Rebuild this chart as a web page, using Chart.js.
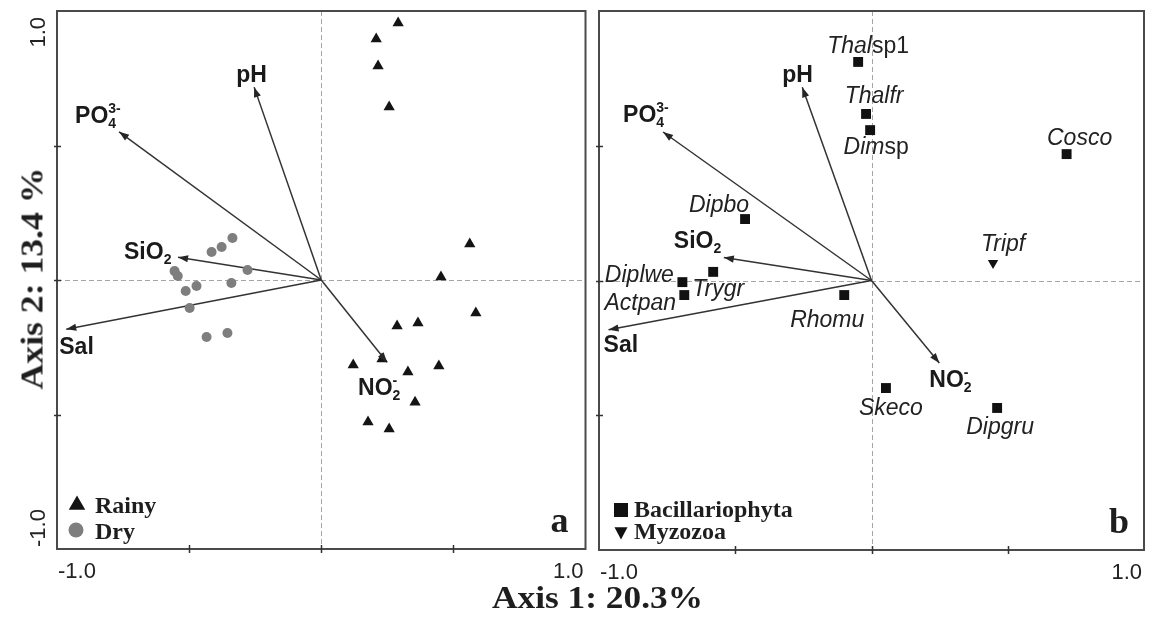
<!DOCTYPE html>
<html><head><meta charset="utf-8">
<script src="https://cdn.jsdelivr.net/npm/chart.js@4.4.1/dist/chart.umd.min.js"></script>
<style>
html,body{margin:0;padding:0;background:#fff;}
#wrap{position:relative;width:1151px;height:618px;overflow:hidden;background:#fff;}
canvas{position:absolute;top:0;}
#cA{left:0;} #cB{left:592px;}
.ttl{position:absolute;font-family:"Liberation Serif","Times New Roman",serif;font-weight:bold;font-size:31px;line-height:31px;color:#1e1e1e;white-space:nowrap;text-align:center;}
#t1{left:22px;width:1151px;top:582px;height:31px;transform:scaleX(1.14);}
#t2{left:-168.5px;top:262.5px;width:400px;height:31px;transform:rotate(-90deg) scaleX(1.15);}
</style></head><body>
<div id="wrap">
<canvas id="cA" width="592" height="618"></canvas>
<canvas id="cB" width="559" height="618"></canvas>
<div class="ttl" id="t1">Axis 1: 20.3%</div>
<div class="ttl" id="t2">Axis 2: 13.4 %</div>
</div>
<script>
// ---------- DATA ----------
const envNames = ['pH', 'PO4', 'SiO2', 'Sal', 'NO2'];
const envX = [-0.254, -0.765, -0.542, -0.965, 0.249];
const envY = [0.717, 0.551, 0.085, -0.183, -0.306];

const rainyX = [0.291, 0.208, 0.215, 0.257, 0.562, 0.453, 0.585, 0.287, 0.366, 0.230, 0.121, 0.328, 0.445, 0.355, 0.177, 0.257];
const rainyY = [0.955, 0.896, 0.796, 0.643, 0.134, 0.011, -0.123, -0.171, -0.160, -0.294, -0.316, -0.342, -0.320, -0.454, -0.528, -0.554];
const dryX = [-0.336, -0.377, -0.415, -0.279, -0.555, -0.543, -0.472, -0.513, -0.340, -0.498, -0.434, -0.355];
const dryY = [0.156, 0.123, 0.104, 0.037, 0.033, 0.015, -0.022, -0.041, -0.011, -0.104, -0.212, -0.197];

const bacNames = ['Thalsp1', 'Thalfr', 'Dimsp', 'Cosco', 'Dipbo', 'Trygr', 'Diplwe', 'Actpan', 'Rhomu', 'Skeco', 'Dipgru'];
const bacX = [-0.049, -0.020, -0.005, 0.716, -0.464, -0.581, -0.694, -0.687, -0.100, 0.053, 0.461];
const bacY = [0.811, 0.618, 0.558, 0.469, 0.228, 0.032, -0.006, -0.054, -0.054, -0.399, -0.473];
const myzNames = ['Tripf'];
const myzX = [0.446];
const myzY = [0.065];

const axisMin = -1, axisMax = 1;
const xTickLabels = ['-1.0', '1.0'];
const yTickLabels = ['-1.0', '1.0'];
const tickMarks = [-0.5, 0, 0.5];

// ---------- LAYOUT (label offsets in px, relative to marks) ----------
const envOffA = [[-18, -5], [-44, -9], [-54, 2], [-7, 25], [-29, 33]];
const envOffB = [[-20, -5], [-40, -10], [-50, -10], [-5, 22], [-10, 24]];
const bacOff = [[10, -8.5], [8, -10.5], [6, 23.5], [13, -9.5], [-26, -7.5], [5, 24], [-43, -0.5], [-44, 14.5], [-17, 32], [5, 27], [3, 26]];
const myzOff = [[10, -11.5]];

const SANS = '"Liberation Sans", Arial, sans-serif';
const SERIF = '"Liberation Serif", "Times New Roman", serif';
const BF = 'bold 23px ' + SANS, BS = 'bold 14px ' + SANS;
const envLabelParts = [
  [{t: 'pH', font: BF}],
  [{t: 'PO', font: BF}, {t: '4', font: BS, dy: 5}, {t: '3-', font: BS, dy: -10, overlap: true}],
  [{t: 'SiO', font: BF}, {t: '2', font: BS, dy: 5}],
  [{t: 'Sal', font: BF}],
  [{t: 'NO', font: BF}, {t: '2', font: BS, dy: 5}, {t: '-', font: BS, dy: -10, overlap: true}]
];

function speciesParts(name) {
  const m = name.match(/^(.*?)(sp\d*)$/);
  const it = 'italic 23px ' + SANS, rg = '23px ' + SANS;
  if (m && m[1]) return [{t: m[1], font: it}, {t: m[2], font: rg}];
  return [{t: name, font: it}];
}

function drawRich(ctx, parts, x, y, align) {
  const widths = parts.map(p => { ctx.font = p.font; return ctx.measureText(p.t).width; });
  const starts = []; let cursor = 0;
  parts.forEach((p, i) => {
    if (p.overlap) { starts.push(starts[i - 1]); cursor = Math.max(cursor, starts[i - 1] + widths[i]); }
    else { starts.push(cursor); cursor += widths[i]; }
  });
  const x0 = align === 'center' ? x - cursor / 2 : x;
  parts.forEach((p, i) => { ctx.font = p.font; ctx.fillText(p.t, x0 + starts[i], y + (p.dy || 0)); });
}

function pts(xs, ys) { return xs.map((v, i) => ({x: v, y: ys[i]})); }

function arrowDatasets() {
  return envNames.map((n, i) => ({
    label: n, data: [{x: 0, y: 0}, {x: envX[i], y: envY[i]}],
    showLine: true, borderColor: '#333', borderWidth: 1.5, pointRadius: 0, pointHoverRadius: 0, clip: false
  }));
}

function marker(ctx, style, cx, cy, s, color) {
  ctx.fillStyle = color; ctx.beginPath();
  if (style === 'triangle') { ctx.moveTo(cx, cy - s * 0.5); ctx.lineTo(cx - s * 0.55, cy + s * 0.45); ctx.lineTo(cx + s * 0.55, cy + s * 0.45); ctx.closePath(); }
  else if (style === 'down') { ctx.moveTo(cx, cy + s * 0.5); ctx.lineTo(cx - s * 0.5, cy - s * 0.45); ctx.lineTo(cx + s * 0.5, cy - s * 0.45); ctx.closePath(); }
  else if (style === 'circle') { ctx.arc(cx, cy, s / 2, 0, Math.PI * 2); }
  else { ctx.rect(cx - s / 2, cy - s / 2, s, s); }
  ctx.fill();
}

function panelPlugin(cfg) {
  return {
    id: 'panel' + cfg.key,
    beforeDatasetsDraw(chart) {
      const {ctx, chartArea: a, scales: {x, y}} = chart;
      ctx.save();
      ctx.strokeStyle = '#a4a4a4'; ctx.lineWidth = 1; ctx.setLineDash([5, 3]);
      const cx = Math.round(x.getPixelForValue(0)) + 0.5, cy = Math.round(y.getPixelForValue(0)) + 0.5;
      ctx.beginPath(); ctx.moveTo(cx, a.top); ctx.lineTo(cx, a.bottom); ctx.moveTo(a.left, cy); ctx.lineTo(a.right, cy); ctx.stroke();
      ctx.restore();
    },
    afterDatasetsDraw(chart) {
      const {ctx, chartArea: a, scales: {x, y}} = chart;
      ctx.save();
      ctx.textBaseline = 'alphabetic'; ctx.textAlign = 'left';
      // arrow heads + labels
      cfg.arrowIdx.forEach((di, k) => {
        const m = chart.getDatasetMeta(di); const p0 = m.data[0], p1 = m.data[1];
        const ang = Math.atan2(p1.y - p0.y, p1.x - p0.x), L = 10, W = 3.6;
        ctx.fillStyle = '#262626'; ctx.beginPath(); ctx.moveTo(p1.x, p1.y);
        ctx.lineTo(p1.x - L * Math.cos(ang) - W * Math.sin(ang), p1.y - L * Math.sin(ang) + W * Math.cos(ang));
        ctx.lineTo(p1.x - L * Math.cos(ang) + W * Math.sin(ang), p1.y - L * Math.sin(ang) - W * Math.cos(ang));
        ctx.closePath(); ctx.fill();
        const off = cfg.envOff[k];
        ctx.fillStyle = '#1a1a1a';
        drawRich(ctx, envLabelParts[k], p1.x + off[0], p1.y + off[1], 'left');
      });
      // species labels
      (cfg.speciesSets || []).forEach(sp => {
        const m = chart.getDatasetMeta(sp.idx);
        m.data.forEach((el, i) => {
          ctx.fillStyle = '#222';
          drawRich(ctx, speciesParts(sp.names[i]), el.x + sp.off[i][0], el.y + sp.off[i][1], 'center');
        });
      });
      // frame
      ctx.strokeStyle = '#4a4a4a'; ctx.lineWidth = 2;
      ctx.strokeRect(a.left, a.top, a.right - a.left, a.bottom - a.top);
      // tick marks
      ctx.strokeStyle = '#333'; ctx.lineWidth = 1.5; ctx.beginPath();
      tickMarks.forEach(v => {
        const px = Math.round(x.getPixelForValue(v)) + 0.5; ctx.moveTo(px, a.bottom - 4); ctx.lineTo(px, a.bottom + 4);
        const py = Math.round(y.getPixelForValue(v)) + 0.5; ctx.moveTo(a.left - 3, py); ctx.lineTo(a.left + 4, py);
      });
      ctx.stroke();
      // tick labels
      ctx.fillStyle = '#222'; ctx.font = '22px ' + SANS;
      const tb = a.bottom + 29;
      ctx.textAlign = 'left'; ctx.fillText(xTickLabels[0], x.getPixelForValue(axisMin) + 1, tb);
      ctx.textAlign = 'right'; ctx.fillText(xTickLabels[1], x.getPixelForValue(axisMax) - 2, tb);
      if (cfg.yLabels) {
        ctx.save(); ctx.translate(a.left - 12, y.getPixelForValue(axisMax) + 6); ctx.rotate(-Math.PI / 2);
        ctx.textAlign = 'right'; ctx.fillText(yTickLabels[1], 0, 0); ctx.restore();
        ctx.save(); ctx.translate(a.left - 12, y.getPixelForValue(axisMin) - 2); ctx.rotate(-Math.PI / 2);
        ctx.textAlign = 'left'; ctx.fillText(yTickLabels[0], 0, 0); ctx.restore();
      }
      // legend
      ctx.textAlign = 'left'; ctx.font = 'bold 24px ' + SERIF;
      cfg.legend.forEach(it => {
        const ds = chart.data.datasets[it.idx];
        marker(ctx, it.style, a.left + it.mx, a.bottom + it.my, it.size, ds.backgroundColor);
        ctx.fillStyle = '#1e1e1e'; ctx.fillText(ds.label, a.left + it.tx, a.bottom + it.ty);
      });
      // panel letter
      ctx.font = 'bold 36px ' + SERIF; ctx.textAlign = 'right'; ctx.fillStyle = '#1e1e1e';
      ctx.fillText(cfg.letter, a.right - cfg.letterDx, a.bottom - 17);
      ctx.restore();
    }
  };
}

function baseOptions(pad) {
  return {
    responsive: false, animation: false, devicePixelRatio: 1,
    layout: {padding: pad},
    plugins: {legend: {display: false}, tooltip: {enabled: false}},
    events: [],
    scales: {
      x: {type: 'linear', min: axisMin, max: axisMax, display: false},
      y: {type: 'linear', min: axisMin, max: axisMax, display: false}
    }
  };
}

// Panel a
const dsA = [
  {label: 'Rainy', data: pts(rainyX, rainyY), pointStyle: 'triangle', pointRadius: 6.5, backgroundColor: '#141414', borderColor: '#141414', borderWidth: 0, clip: false},
  {label: 'Dry', data: pts(dryX, dryY), pointStyle: 'circle', pointRadius: 5, backgroundColor: '#7e7e7e', borderColor: '#7e7e7e', borderWidth: 0, clip: false}
].concat(arrowDatasets());
new Chart(document.getElementById('cA'), {
  type: 'scatter',
  data: {datasets: dsA},
  options: baseOptions({left: 57, top: 11, right: 5, bottom: 69}),
  plugins: [panelPlugin({
    key: 'A', arrowIdx: [2, 3, 4, 5, 6], envOff: envOffA, yLabels: true, letter: 'a', letterDx: 17,
    legend: [
      {idx: 0, style: 'triangle', mx: 20, my: -46, size: 15, tx: 38, ty: -36},
      {idx: 1, style: 'circle', mx: 19, my: -19, size: 15, tx: 38, ty: -10}
    ]
  })]
});

// Panel b
const dsB = [
  {label: 'Bacillariophyta', data: pts(bacX, bacY), pointStyle: 'rect', pointRadius: 7, backgroundColor: '#111', borderColor: '#111', borderWidth: 0, clip: false},
  {label: 'Myzozoa', data: pts(myzX, myzY), pointStyle: 'triangle', rotation: 180, pointRadius: 6, backgroundColor: '#111', borderColor: '#111', borderWidth: 0, clip: false}
].concat(arrowDatasets());
new Chart(document.getElementById('cB'), {
  type: 'scatter',
  data: {datasets: dsB},
  options: baseOptions({left: 6, top: 11, right: 4, bottom: 68}),
  plugins: [panelPlugin({
    key: 'B', arrowIdx: [2, 3, 4, 5, 6], envOff: envOffB, yLabels: false, letter: 'b', letterDx: 15,
    speciesSets: [{idx: 0, names: bacNames, off: bacOff}, {idx: 1, names: myzNames, off: myzOff}],
    legend: [
      {idx: 0, style: 'rect', mx: 22, my: -40, size: 14, tx: 35, ty: -33},
      {idx: 1, style: 'down', mx: 22, my: -17, size: 13, tx: 35, ty: -11}
    ]
  })]
});
</script>
</body></html>
